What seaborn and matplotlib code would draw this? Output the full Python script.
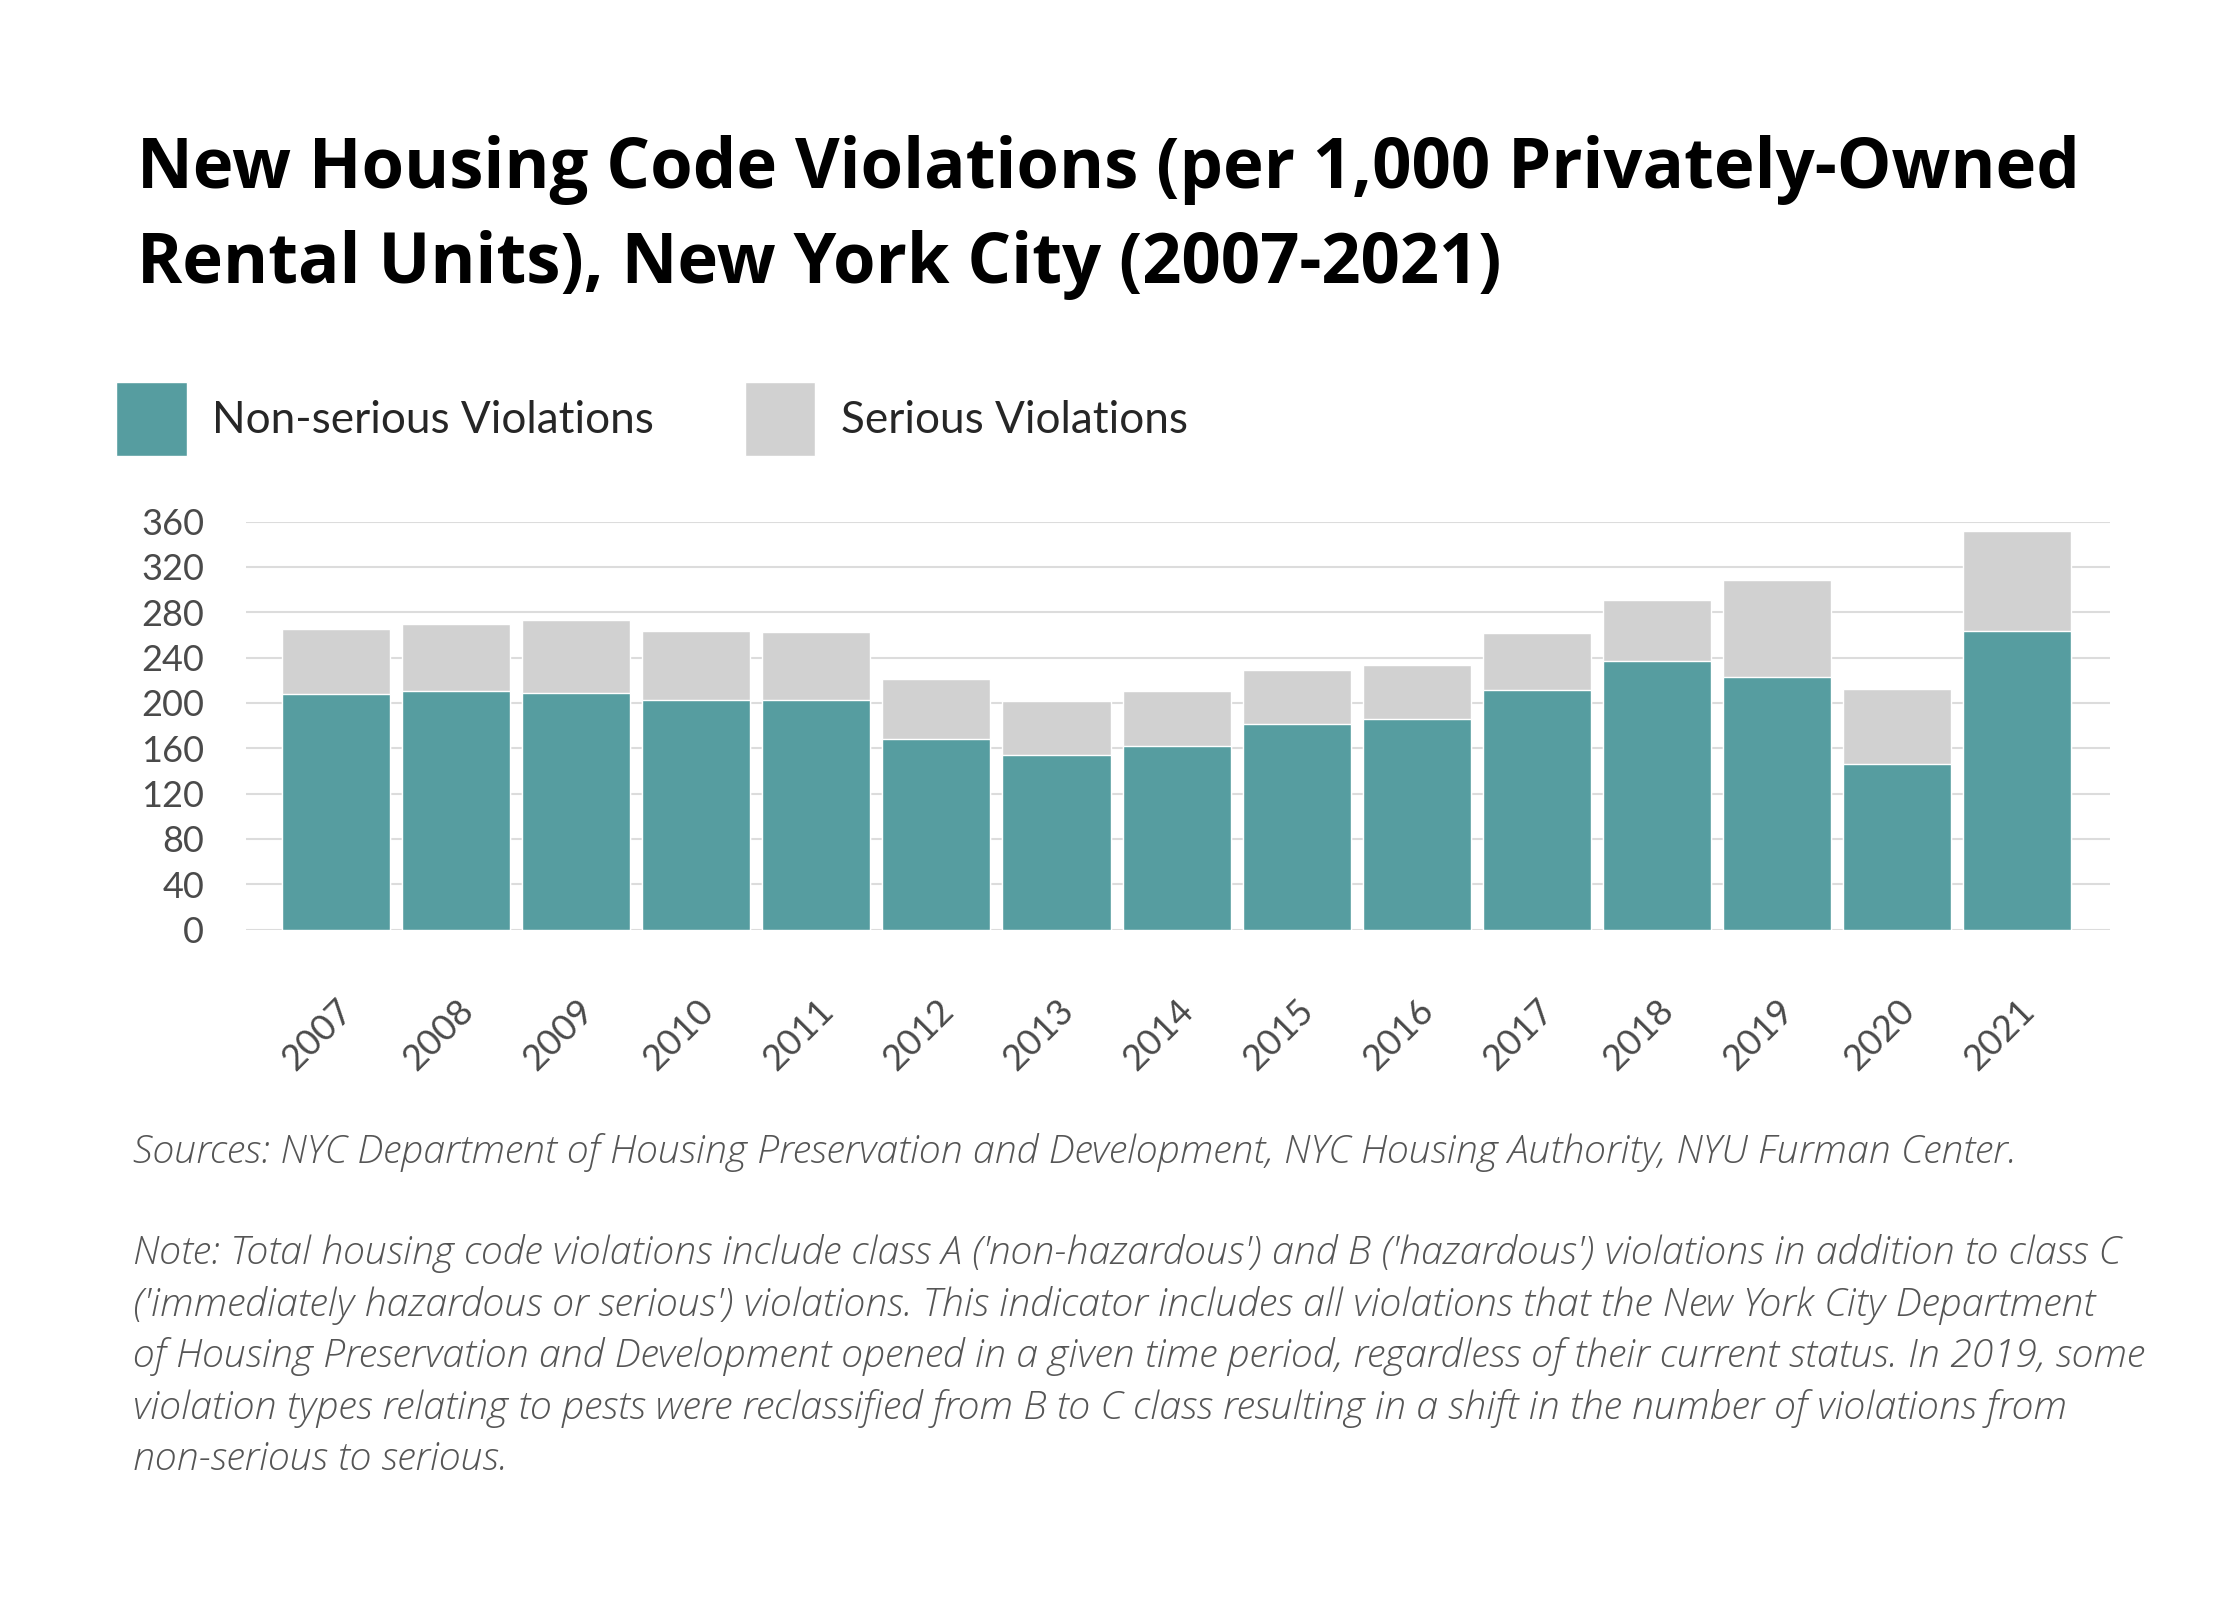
import numpy as np
import pandas as pd
import seaborn as sns
import matplotlib.pyplot as plt
import matplotlib.transforms as mtransforms

# values (violations per 1,000 units)
years = [str(y) for y in range(2007, 2022)]
non_serious = [207.5, 210.2, 208.4, 202.2, 202.2, 167.8, 153.7, 161.6,
               181.0, 185.5, 211.1, 236.7, 222.5, 145.7, 263.2]
serious = [57.5, 59.2, 64.5, 61.0, 60.1, 53.0, 47.7, 48.6,
           47.7, 47.6, 50.3, 53.9, 85.7, 66.3, 88.3]
y_ticks = [0, 40, 80, 120, 160, 200, 240, 280, 320, 360]

title_lines = ["New Housing Code Violations (per 1,000 Privately-Owned",
               "Rental Units), New York City (2007-2021)"]
legend_labels = ["Non-serious Violations", "Serious Violations"]
source_text = ("Sources: NYC Department of Housing Preservation and Development, "
               "NYC Housing Authority, NYU Furman Center.")
note_lines = [
    "Note: Total housing code violations include class A ('non-hazardous') and B ('hazardous') violations in addition to class C",
    "('immediately hazardous or serious') violations. This indicator includes all violations that the New York City Department",
    "of Housing Preservation and Development opened in a given time period, regardless of their current status. In 2019, some",
    "violation types relating to pests were reclassified from B to C class resulting in a shift in the number of violations from",
    "non-serious to serious.",
]

df = pd.DataFrame({"year": years, "non_serious": non_serious, "serious": serious})
df["total"] = df["non_serious"] + df["serious"]

teal = "#569da0"
grey = "#d1d1d1"
text_grey = "#4a4a4a"

sns.set_theme(style="white")
plt.rcParams["font.family"] = ["Lato", "DejaVu Sans"]

fig = plt.figure(figsize=(22.4, 16), dpi=100)
ax = fig.add_axes([0.1098, 0.419, 0.832, 0.255])

# stacked bars: total in grey underneath, non-serious in teal on top
sns.barplot(data=df, x="year", y="total", color=grey, width=0.9,
            saturation=1, ax=ax, label=legend_labels[1])
sns.barplot(data=df, x="year", y="non_serious", color=teal, width=0.9,
            saturation=1, ax=ax, label=legend_labels[0])

ax.set_xlim(-0.75, 14.77)
ax.set_ylim(0, 360)
ax.set_yticks(y_ticks)
ax.set_xlabel("")
ax.set_ylabel("")
ax.grid(axis="y", color="#dcdcdc", linewidth=1.5)
ax.set_axisbelow(True)
sns.despine(ax=ax, left=True, bottom=True)
ax.tick_params(axis="both", length=0, labelsize=26, colors=text_grey)
ax.tick_params(axis="y", pad=30)
ax.tick_params(axis="x", pad=46)

offset = mtransforms.ScaledTranslation(-18 / 100, 0, fig.dpi_scale_trans)
for lab in ax.get_xticklabels():
    lab.set_rotation(45)
    lab.set_ha("center")
    lab.set_transform(lab.get_transform() + offset)

handles, labels = ax.get_legend_handles_labels()
order = [labels.index(l) for l in legend_labels]
leg = fig.legend([handles[i] for i in order], legend_labels,
                 loc="upper left", bbox_to_anchor=(0.052, 0.761), ncol=2,
                 frameon=False, fontsize=31.8, handlelength=1.59, handleheight=2.2,
                 handletextpad=0.58, columnspacing=2.05, borderpad=0,
                 borderaxespad=0)
ax.get_legend() and ax.get_legend().remove()

title_font = ["Open Sans", "DejaVu Sans"]
fig.text(0.061, 1 - 188 / 1600, title_lines[0], fontsize=49.5, fontweight="bold",
         family=title_font, color="black", va="baseline")
fig.text(0.061, 1 - 283 / 1600, title_lines[1], fontsize=49.5, fontweight="bold",
         family=title_font, color="black", va="baseline")

foot_font = ["Open Sans", "DejaVu Sans"]
fig.text(0.0595, 1 - 1163 / 1600, source_text, fontsize=28.4, style="italic",
         fontweight="light", family=foot_font, color="#555555", va="baseline")
for i, line in enumerate(note_lines):
    fig.text(0.0595, 1 - (1264 + i * 51.6) / 1600, line, fontsize=28.4,
             style="italic", fontweight="light", family=foot_font,
             color="#555555", va="baseline")

fig.savefig("out.png", dpi=100, facecolor="white")
